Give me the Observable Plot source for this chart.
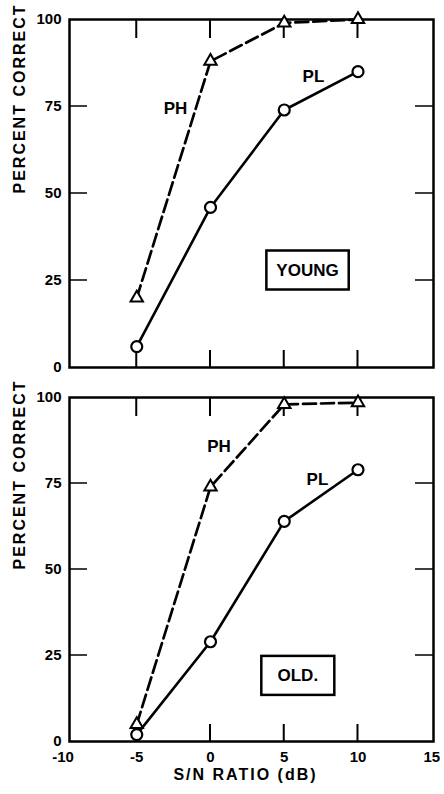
<!DOCTYPE html>
<html>
<head>
<meta charset="utf-8">
<script src="https://cdn.jsdelivr.net/npm/d3@7"></script>
<script src="https://cdn.jsdelivr.net/npm/@observablehq/plot@0.6"></script>
<style>
  html, body { margin: 0; padding: 0; background: white; }
  #chart svg { display: block; }
</style>
</head>
<body>
<div id="chart"></div>
<script>
// ---- data ----
const snr = [-5, 0, 5, 10];                 // S/N ratio (dB)
const youngPH = [20, 88, 99, 100];
const youngPL = [6, 46, 74, 85];
const oldPH = [5, 74, 98, 98.5];
const oldPL = [2, 29, 64, 79];

const xTicks = [-10, -5, 0, 5, 10, 15];
const xInnerTicks = [-5, 0, 5, 10];
const yTicks = [0, 25, 50, 75, 100];
const yInnerTicks = [25, 50, 75];

const panelNames = ["YOUNG", "OLD."];
const yLabel = "PERCENT CORRECT";
const xLabel = "S/N RATIO (dB)";

// annotation anchors (data units)
const youngNotes = [
  {text: "PH", x: -2.37, y: 74.4},
  {text: "PL", x: 6.98, y: 83.5}
];
const oldNotes = [
  {text: "PH", x: 0.58, y: 85.7},
  {text: "PL", x: 7.25, y: 76.2}
];
const youngTag = {text: panelNames[0], x: 6.58, y: 28.0};
const oldTag = {text: panelNames[1], x: 5.92, y: 19.2};

const W = 444, ML = 69, MR = 11;
const X_DOMAIN = [-9.56, 15.12];
const FONT = "'Liberation Sans', Arial, Helvetica, sans-serif";

function panel({ph, pl, notes, tag, height, marginTop, marginBottom, showX}) {
  const rowsPH = snr.map((x, i) => ({x, y: ph[i]}));
  const rowsPL = snr.map((x, i) => ({x, y: pl[i]}));
  const marks = [
    Plot.axisY({ticks: yTicks, tickSize: 0, tickPadding: 8, label: null, tickFormat: d => String(d)}),
    Plot.frame({strokeWidth: 2.5}),
    Plot.line(rowsPH, {x: "x", y: "y", strokeWidth: 2.7, strokeDasharray: "13,5"}),
    Plot.line(rowsPL, {x: "x", y: "y", strokeWidth: 2.6}),
    Plot.dot(rowsPH, {x: "x", y: "y", symbol: "triangle", r: 4.6, fill: "white", stroke: "black", strokeWidth: 2}),
    Plot.dot(rowsPL, {x: "x", y: "y", symbol: "circle", r: 5.5, fill: "white", stroke: "black", strokeWidth: 2.2}),
    Plot.text(notes, {x: "x", y: "y", text: "text", fontSize: 17, fontWeight: "bold"}),
    Plot.text([tag], {x: "x", y: "y", text: "text", fontSize: 17, fontWeight: "bold"}),
    Plot.text([yLabel], {frameAnchor: "left", dx: -50, rotate: -90, fontSize: 16, fontWeight: "bold"})
  ];
  if (showX) {
    marks.push(Plot.axisX({ticks: xTicks, tickSize: 0, tickPadding: 10, label: null, tickFormat: d => String(d)}));
    marks.push(Plot.text([xLabel], {frameAnchor: "bottom", dx: -6, dy: 38, fontSize: 16, fontWeight: "bold"}));
  }
  return Plot.plot({
    width: W, height, marginLeft: ML, marginRight: MR, marginTop, marginBottom,
    style: {fontFamily: FONT, fontWeight: "bold", fontSize: "15px", color: "black", background: "white"},
    x: {domain: X_DOMAIN, axis: null},
    y: {domain: [0, 100], axis: null},
    marks
  });
}

const chartDiv = document.getElementById("chart");
const topPanel = panel({ph: youngPH, pl: youngPL, notes: youngNotes, tag: youngTag, height: 380, marginTop: 19, marginBottom: 13, showX: false});
const bottomPanel = panel({ph: oldPH, pl: oldPL, notes: oldNotes, tag: oldTag, height: 414, marginTop: 17, marginBottom: 53, showX: true});
chartDiv.append(topPanel, bottomPanel);

const NS = "http://www.w3.org/2000/svg";
for (const svg of [topPanel, bottomPanel]) {
  // inward frame ticks, placed with the plot's own scales
  const sx = svg.scale("x"), sy = svg.scale("y");
  const xL = sx.apply(X_DOMAIN[0]), xR = sx.apply(X_DOMAIN[1]);
  const yT = sy.apply(100), yB = sy.apply(0);
  let d1 = "", d2 = "";
  for (const t of xInnerTicks) {
    const x = sx.apply(t);
    d1 += `M${x},${yT}V${yT + 19}M${x},${yB}V${yB - 17}`;
  }
  for (const t of yInnerTicks) {
    const y = sy.apply(t);
    d2 += `M${xL},${y}H${xL + 18}M${xR},${y}H${xR - 18}`;
  }
  const g = document.createElementNS(NS, "g");
  g.setAttribute("aria-label", "frame ticks");
  g.setAttribute("fill", "none");
  g.setAttribute("stroke", "black");
  const p1 = document.createElementNS(NS, "path");
  p1.setAttribute("d", d1); p1.setAttribute("stroke-width", 2);
  const p2 = document.createElementNS(NS, "path");
  p2.setAttribute("d", d2); p2.setAttribute("stroke-width", 1.6);
  g.append(p1, p2);
  const frame = svg.querySelector('[aria-label="frame"]');
  if (frame && frame.nextSibling) svg.insertBefore(g, frame.nextSibling); else svg.append(g);

  // letter spacing of axis titles, boxes around the panel tags
  d3.select(svg).selectAll("text").each(function() {
    const t = this.textContent;
    if (t === yLabel || t === xLabel) this.style.letterSpacing = "2px";
    if (panelNames.includes(t)) {
      const b = this.getBBox();
      const w = Math.max(b.width + 20, 73), h = 39;
      const cx = b.x + b.width / 2, cy = b.y + b.height / 2;
      const r = document.createElementNS(NS, "rect");
      r.setAttribute("x", cx - w / 2);
      r.setAttribute("y", cy - h / 2);
      r.setAttribute("width", w);
      r.setAttribute("height", h);
      r.setAttribute("fill", "none");
      r.setAttribute("stroke", "black");
      r.setAttribute("stroke-width", 2.5);
      const tr = this.getAttribute("transform");
      if (tr) r.setAttribute("transform", tr);
      this.parentNode.insertBefore(r, this);
    }
  });
}
</script>
</body>
</html>
